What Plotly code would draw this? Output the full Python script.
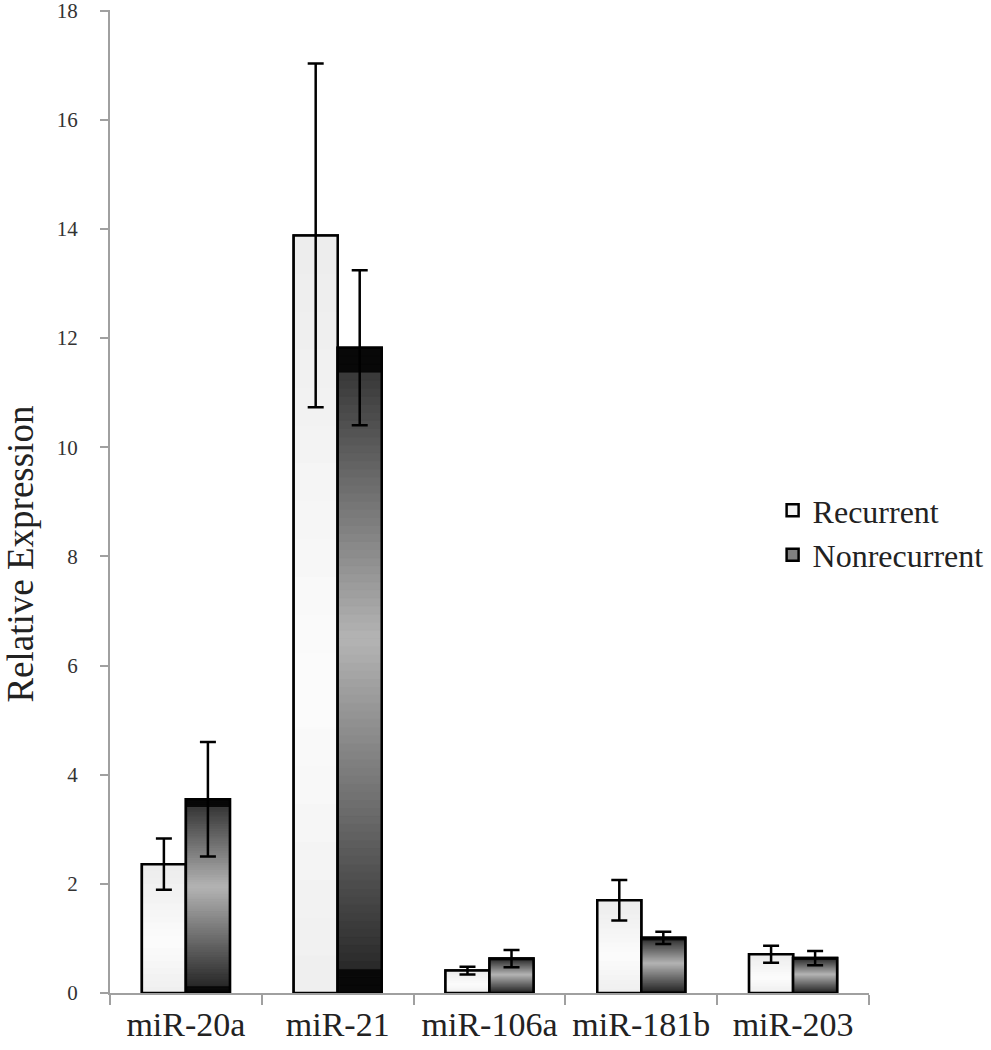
import plotly.graph_objects as go

categories = ["miR-20a", "miR-21", "miR-106a", "miR-181b", "miR-203"]
recurrent = [2.36, 13.88, 0.41, 1.70, 0.71]
recurrent_err = [0.47, 3.15, 0.07, 0.37, 0.155]
nonrecurrent = [3.55, 11.82, 0.63, 1.01, 0.64]
nonrecurrent_err = [1.05, 1.42, 0.16, 0.11, 0.13]
y_ticks = [0, 2, 4, 6, 8, 10, 12, 14, 16, 18]

FONT = "Liberation Serif, Times New Roman, serif"
BAR_W = 0.29
N_SEG = 80


def lerp(c1, c2, t):
    return tuple(round(a + (b - a) * t) for a, b in zip(c1, c2))


def dark_grad(t):
    # t: fraction from top of bar
    if t < 0.035 or t > 0.965:
        return (8, 8, 8)
    if t < 0.45:
        return lerp((55, 55, 55), (180, 180, 180), (t - 0.035) / 0.415)
    return lerp((180, 180, 180), (40, 40, 40), (t - 0.45) / 0.515)


def light_grad(t):
    if t < 0.6:
        return lerp((236, 236, 236), (252, 252, 252), t / 0.6)
    return lerp((252, 252, 252), (238, 238, 238), (t - 0.6) / 0.4)


fig = go.Figure()


def add_series(name, vals, errs, offset, legend_color, grad, nseg):
    fig.add_trace(go.Bar(
        x=categories, y=vals, name=name, width=BAR_W, offset=offset,
        marker=dict(color=legend_color, line=dict(color="black", width=2.5)),
        showlegend=True,
    ))
    for k in range(nseg):
        f0 = k / nseg
        f1 = (k + 1) / nseg
        t = 1 - (f0 + f1) / 2
        c = "rgb(%d,%d,%d)" % grad(t)
        fig.add_trace(go.Bar(
            x=categories, y=[v * (f1 - f0) for v in vals], base=[v * f0 for v in vals],
            width=BAR_W, offset=offset,
            marker=dict(color=c, line=dict(color=c, width=1)),
            showlegend=False, hoverinfo="skip",
        ))
    fig.add_trace(go.Bar(
        x=categories, y=vals, name=name, width=BAR_W, offset=offset,
        marker=dict(color="rgba(0,0,0,0)", line=dict(color="black", width=2.5)),
        error_y=dict(type="data", array=errs, visible=True, color="black",
                     thickness=2.5, width=8),
        showlegend=False,
    ))


add_series("Recurrent", recurrent, recurrent_err, -BAR_W, "#f2f2f2", light_grad, 20)
add_series("Nonrecurrent", nonrecurrent, nonrecurrent_err, 0, "#808080", dark_grad, N_SEG)

fig.update_layout(
    width=991, height=1050,
    barmode="overlay",
    plot_bgcolor="white", paper_bgcolor="white",
    margin=dict(l=110, r=122, t=10, b=57, autoexpand=False),
    font=dict(family=FONT, color="#222"),
    legend=dict(
        x=0.873, y=0.468, xanchor="left", yanchor="middle",
        bgcolor="rgba(0,0,0,0)", font=dict(size=32, family=FONT, color="#222"),
        traceorder="normal",
    ),
    annotations=[dict(
        text="Relative Expression", textangle=-90, showarrow=False,
        xref="paper", yref="paper", x=0, xshift=-89, y=0.446,
        xanchor="center", yanchor="middle",
        font=dict(size=37, family=FONT, color="#222"),
    )],
)

fig.update_yaxes(
    range=[0, 18.01], tickvals=y_ticks, showgrid=False, zeroline=False,
    showline=True, linecolor="#a0a0a0", linewidth=2, automargin=False,
    ticks="outside", ticklen=8, tickcolor="#a0a0a0", tickwidth=2,
    ticklabelstandoff=18, ticklabeloverflow="allow",
    tickfont=dict(size=21, family=FONT, color="#333"),
)
fig.update_xaxes(
    type="category", range=[-0.5, 4.5], showgrid=False, automargin=False,
    showline=True, linecolor="#a0a0a0", linewidth=2,
    ticks="outside", tickson="boundaries", ticklen=10, tickcolor="#a0a0a0", tickwidth=2,
    ticklabeloverflow="allow",
    tickfont=dict(size=34, family=FONT, color="#222"),
)

fig.write_html(
    "out.html",
    config={"displayModeBar": False},
    post_script="document.body.style.margin='0px';document.body.style.overflow='hidden';",
)
